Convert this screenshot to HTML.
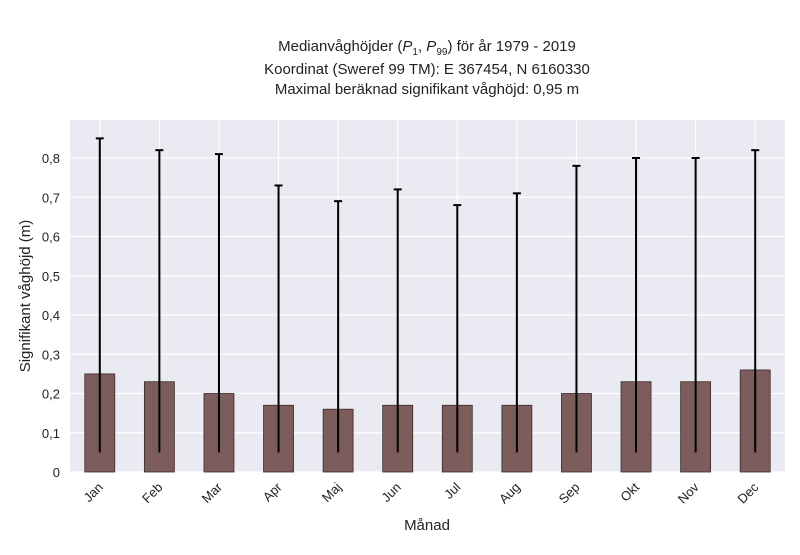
<!DOCTYPE html>
<html><head><meta charset="utf-8"><style>
body{margin:0;background:#fff;}
svg text{font-family:"Liberation Sans",sans-serif;fill:#222;}
</style></head><body>
<svg id="chart" width="800" height="550" viewBox="0 0 800 550">
<text x="427" y="51" text-anchor="middle" font-size="15">Medianvåghöjder (<tspan font-style="italic">P</tspan><tspan font-size="10" dy="4">1</tspan><tspan dy="-4">, </tspan><tspan font-style="italic">P</tspan><tspan font-size="10" dy="4">99</tspan><tspan dy="-4">) för år 1979 - 2019</tspan></text>
<text x="427" y="74" text-anchor="middle" font-size="15">Koordinat (Sweref 99 TM): E 367454, N 6160330</text>
<text x="427" y="94" text-anchor="middle" font-size="15">Maximal beräknad signifikant våghöjd: 0,95 m</text>
<rect x="70" y="120" width="715" height="352" fill="#eaeaf2"/>
<g id="grid"></g><g id="bars"></g><g id="axes"></g>
<text x="427" y="530" text-anchor="middle" font-size="15">Månad</text>
<text transform="translate(30,296) rotate(-90)" text-anchor="middle" font-size="15">Signifikant våghöjd (m)</text>
</svg>
<script>
const months=["Jan","Feb","Mar","Apr","Maj","Jun","Jul","Aug","Sep","Okt","Nov","Dec"];
const medians=[0.25,0.23,0.20,0.17,0.16,0.17,0.17,0.17,0.20,0.23,0.23,0.26];
const p99=[0.85,0.82,0.81,0.73,0.69,0.72,0.68,0.71,0.78,0.80,0.80,0.82];
const p1=[0.05,0.05,0.05,0.05,0.05,0.05,0.05,0.05,0.05,0.05,0.05,0.05];
const yTicks=[0,0.1,0.2,0.3,0.4,0.5,0.6,0.7,0.8];
const yTickLabels=["0","0,1","0,2","0,3","0,4","0,5","0,6","0,7","0,8"];
const NS="http://www.w3.org/2000/svg";
const x0=70,x1=785,y0=472,pxPer=392.5;
const step=(x1-x0)/months.length;
const xc=i=>x0+step*(i+0.5);
const y=v=>y0-v*pxPer;
function mk(t,a,p){const e=document.createElementNS(NS,t);for(const k in a)e.setAttribute(k,a[k]);p.appendChild(e);return e;}
const grid=document.getElementById('grid'),bars=document.getElementById('bars'),axes=document.getElementById('axes');
yTicks.forEach((v,i)=>{
 const l=mk('line',{x1:x0,x2:x1,y1:y(v),y2:y(v),stroke:'#fff','stroke-width':1.2},grid);
 
 
 const t=mk('text',{x:x0-10,y:y(v)+5,'text-anchor':'end','font-size':13},axes);
 t.textContent=yTickLabels[i];
 
 
});
months.forEach((m,i)=>{
 const g=mk('line',{x1:xc(i),x2:xc(i),y1:120,y2:y0,stroke:'#fff','stroke-width':1.2},grid);
 
 
 const b=mk('rect',{x:xc(i)-15,y:y(medians[i]),width:30,height:y0-y(medians[i]),fill:'#7d5c5c',stroke:'#3a2a2a','stroke-width':0.8},bars);
 
 
 const e=mk('line',{x1:xc(i),x2:xc(i),y1:y(p99[i]),y2:y(p1[i]),stroke:'#000','stroke-width':2},bars);
 
 
 const c=mk('line',{x1:xc(i)-4,x2:xc(i)+4,y1:y(p99[i]),y2:y(p99[i]),stroke:'#000','stroke-width':2},bars);
 
 
 const t=mk('text',{x:xc(i)+4,y:y0+16,'text-anchor':'end','font-size':13,transform:`rotate(-45 ${xc(i)+4} ${y0+16})`},axes);
 t.textContent=m;
 
 
});
</script>
</body></html>
